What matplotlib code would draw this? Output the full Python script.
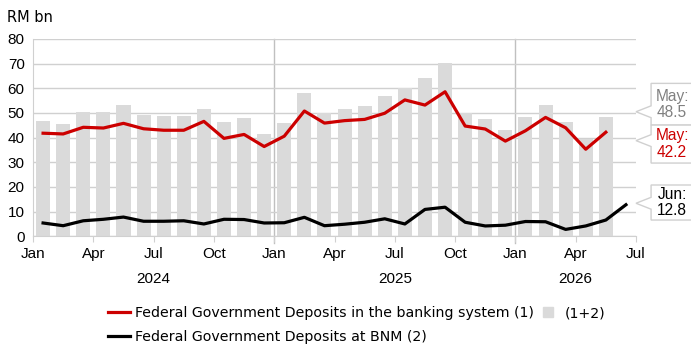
import matplotlib
matplotlib.use("Agg")
import matplotlib.pyplot as plt
import matplotlib.transforms as mtransforms
from matplotlib.lines import Line2D
from matplotlib.patches import Polygon

# monthly values, Jan 2024 onwards (RM bn)
banking = [41.8, 41.5, 44.2, 43.9, 45.8, 43.6, 43.0, 43.0, 46.6, 39.7, 41.3, 36.4,
           40.6, 50.8, 45.9, 46.9, 47.4, 49.9, 55.3, 53.2, 58.6, 44.7, 43.5, 38.6,
           42.8, 48.2, 44.0, 35.3, 42.2]
at_bnm = [5.4, 4.3, 6.3, 6.9, 7.8, 6.1, 6.1, 6.3, 5.0, 6.9, 6.8, 5.4,
          5.5, 7.7, 4.3, 4.9, 5.7, 7.1, 5.0, 10.9, 11.8, 5.7, 4.2, 4.5,
          6.0, 5.9, 2.8, 4.2, 6.6, 12.8]
total = [46.7, 45.6, 50.3, 50.3, 53.3, 49.3, 48.6, 48.9, 51.6, 46.3, 48.0, 41.6,
         45.8, 58.2, 50.1, 51.6, 52.7, 56.9, 60.0, 64.0, 70.1, 50.1, 47.4, 43.1,
         48.5, 53.3, 46.5, 39.3, 48.5]

tick_labels = ["Jan", "Apr", "Jul", "Oct"] * 2 + ["Jan", "Apr", "Jul"]
years = ["2024", "2025", "2026"]
year_pos = [6, 18, 27]

# callouts: text, colour, tip y, box top, box bottom
callouts = [
    ("May:\n48.5", "#808080", 50.5, 62.0, 45.1),
    ("May:\n42.2", "#cc0000", 38.8, 45.1, 29.7),
    ("Jun:\n12.8", "black", 13.4, 20.8, 6.6),
]

RED = "#cc0000"
GRID = "#d0d0d0"
BAR = "#dadada"

fig = plt.figure(figsize=(6.91, 3.49), dpi=100)
ax = fig.add_axes([0.0478, 0.3229, 0.8726, 0.5654])

x_total = [i + 0.5 for i in range(len(total))]
x_bank = [i + 0.5 for i in range(len(banking))]
x_bnm = [i + 0.5 for i in range(len(at_bnm))]

ax.bar(x_total, total, width=0.7, color=BAR, zorder=2)
red_line, = ax.plot(x_bank, banking, color=RED, lw=2.3, zorder=3)
black_line, = ax.plot(x_bnm, at_bnm, color="black", lw=2.3, zorder=3)

ax.set_xlim(0, 30)
ax.set_ylim(0, 80)
ax.set_yticks(range(0, 81, 10))
ax.yaxis.grid(True, color=GRID, lw=1, zorder=0)
ax.tick_params(axis="y", length=0, labelsize=11, pad=6)
ax.set_xticks(range(0, 31, 3))
ax.set_xticklabels(tick_labels)
ax.tick_params(axis="x", length=4, color=GRID, labelsize=11, pad=4)
for lab in ax.get_xticklabels() + ax.get_yticklabels():
    lab.set_fontfamily("Liberation Sans")
for s in ["top", "right"]:
    ax.spines[s].set_visible(False)
for s in ["left", "bottom"]:
    ax.spines[s].set_color(GRID)

# year separators
for xv in (12, 24):
    ax.axvline(xv, ymin=-0.035, ymax=1, color="#c0c0c0", lw=1, zorder=1, clip_on=False)

trans = mtransforms.blended_transform_factory(ax.transData, ax.transAxes)
for yr, xp in zip(years, year_pos):
    ax.text(xp, -0.215, yr, transform=trans, ha="center", va="center",
            fontsize=11, family="Liberation Sans")

fig.text(0.01, 0.95, "RM bn", fontsize=10.5, family="DejaVu Sans", va="center")

# callout boxes on the right
for txt, col, tip, top, bot in callouts:
    left = 30.75
    pts = [(30, tip), (left, tip + 2.4), (left, top), (34, top), (34, bot),
           (left, bot), (left, tip - 2.4)]
    ax.add_patch(Polygon(pts, closed=True, facecolor="white", edgecolor=GRID,
                         lw=1, clip_on=False, zorder=4))
    ax.text(31.8, (top + bot) / 2, txt, color=col, ha="center", va="center",
            fontsize=11.2, family="Liberation Sans", linespacing=1.12,
            zorder=5, clip_on=False)

bar_handle = Line2D([], [], ls="none", marker="s", markersize=7.5,
                    markerfacecolor=BAR, markeredgecolor=BAR)
handles = [red_line, black_line, bar_handle]
labels = ["Federal Government Deposits in the banking system (1)",
          "Federal Government Deposits at BNM (2)", "(1+2)"]
fig.legend(handles, labels, ncol=2,
           loc="upper left", bbox_to_anchor=(0.156, 0.123), frameon=False,
           fontsize=10.2, handlelength=1.6, handletextpad=0.35, columnspacing=0.2,
           labelspacing=0.68, borderaxespad=0, borderpad=0)

fig.savefig("out.png", dpi=100)
